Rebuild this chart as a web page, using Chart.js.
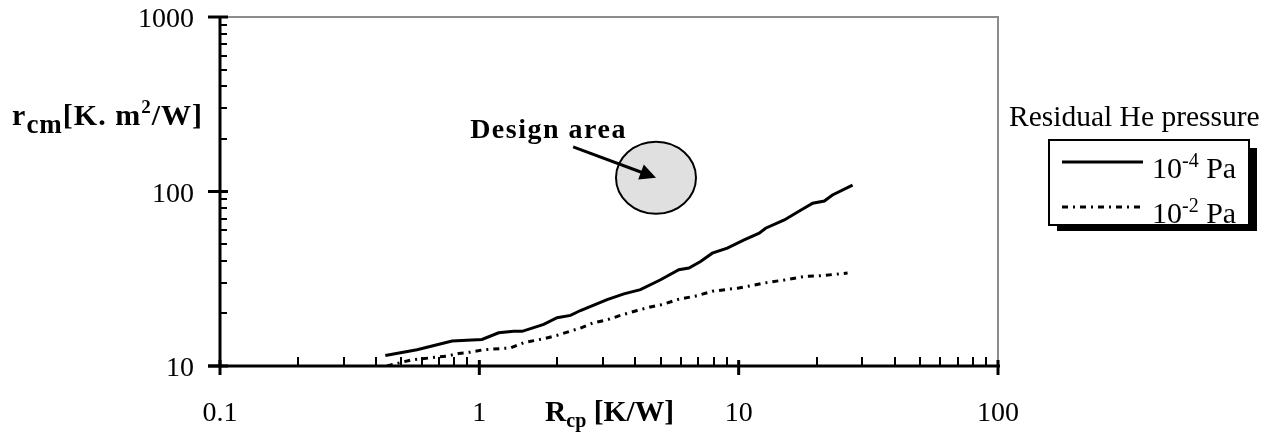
<!DOCTYPE html>
<html>
<head>
<meta charset="utf-8">
<script src="https://cdn.jsdelivr.net/npm/chart.js@4"></script>
<style>
  html, body { margin: 0; padding: 0; background: #fff; }
  #wrap { width: 1265px; height: 432px; }
</style>
</head>
<body>
<div id="wrap"><canvas id="miGrafica" width="1265" height="432"></canvas></div>
<script>
// R_cp [K/W] vs r_cm, residual He pressure 1e-4 Pa
const rcp4 = [0.434, 0.575, 0.785, 1.024, 1.187, 1.356, 1.462, 1.771, 1.995, 2.246, 2.455, 3.11, 3.61, 4.18, 5.0, 5.88, 6.43, 7.13, 7.91, 9.04, 10.5, 12.0, 12.7, 15.0, 17.4, 19.3, 21.4, 23.0, 27.5];
const rcm4 = [11.5, 12.4, 13.9, 14.2, 15.5, 15.8, 15.8, 17.3, 18.9, 19.5, 20.8, 24.0, 25.9, 27.4, 31.2, 35.6, 36.4, 39.7, 44.3, 47.4, 52.8, 57.7, 61.6, 68.7, 78.4, 85.6, 88.2, 95.5, 108.9];

// residual He pressure 1e-2 Pa
const rcp2 = [0.44, 0.542, 0.601, 0.75, 0.832, 0.922, 1.039, 1.318, 1.483, 1.798, 1.995, 2.455, 2.76, 3.11, 3.50, 4.06, 4.57, 5.07, 5.80, 6.93, 7.91, 10.0, 11.1, 12.9, 15.2, 17.9, 20.7, 26.3];
const rcm2 = [10.0, 10.8, 11.0, 11.4, 11.8, 12.0, 12.4, 12.7, 13.6, 14.4, 15.0, 16.5, 17.7, 18.4, 19.5, 20.8, 21.8, 22.5, 24.0, 25.3, 26.8, 28.0, 28.8, 30.1, 31.2, 32.6, 32.9, 34.1];

const xTicks = [0.1, 1, 10, 100];
const xTickLabels = ["0.1", "1", "10", "100"];
const yTicks = [10, 100, 1000];
const yTickLabels = ["10", "100", "1000"];

const seriesNames = ["10^-4 Pa", "10^-2 Pa"];
const legendTitle = "Residual He pressure";
const designLabel = "Design area";
const designCenter = { x: 4.8, y: 120 };
const designArrowFrom = { x: 2.3, y: 180 };

const FONT = "'Liberation Serif', 'Times New Roman', serif";

function puntos(xs, ys) {
    return xs.map((x, i) => ({ x: x, y: ys[i] }));
}

// texto con sub/superindices: partes [texto, tam, desplazamiento]
function textoPartes(ctx, partes, x, y, bold) {
    let cx = x;
    partes.forEach(p => {
        ctx.font = (bold ? "bold " : "") + p[1] + "px " + FONT;
        ctx.fillText(p[0], cx, y + p[2]);
        cx += ctx.measureText(p[0]).width;
    });
    return cx;
}
function anchoPartes(ctx, partes, bold) {
    let w = 0;
    partes.forEach(p => {
        ctx.font = (bold ? "bold " : "") + p[1] + "px " + FONT;
        w += ctx.measureText(p[0]).width;
    });
    return w;
}

const decor = {
    id: "decor",
    beforeDatasetsDraw(chart) {
        const ctx = chart.ctx;
        const a = chart.chartArea;
        ctx.save();
        // marco gris
        ctx.strokeStyle = "#8c8c8c";
        ctx.lineWidth = 2;
        ctx.beginPath();
        ctx.moveTo(a.left, a.top);
        ctx.lineTo(a.right, a.top);
        ctx.lineTo(a.right, a.bottom);
        ctx.stroke();

        // elipse area de diseno
        const cx = chart.scales.x.getPixelForValue(designCenter.x);
        const cy = chart.scales.y.getPixelForValue(designCenter.y);
        ctx.beginPath();
        ctx.ellipse(cx, cy, 40, 36, 0, 0, Math.PI * 2);
        ctx.fillStyle = "#e0e0e0";
        ctx.fill();
        ctx.strokeStyle = "#000";
        ctx.lineWidth = 2;
        ctx.stroke();
        ctx.restore();
    },
    afterDatasetsDraw(chart) {
        const ctx = chart.ctx;
        const a = chart.chartArea;
        const sx = chart.scales.x;
        const sy = chart.scales.y;
        ctx.save();
        ctx.strokeStyle = "#000";
        ctx.fillStyle = "#000";

        // ejes
        ctx.lineWidth = 3;
        ctx.beginPath();
        ctx.moveTo(a.left, a.top);
        ctx.lineTo(a.left, a.bottom);
        ctx.moveTo(a.left - 12, a.bottom);
        ctx.lineTo(a.right + 2, a.bottom);
        ctx.stroke();

        // marcas y
        ctx.lineWidth = 2;
        for (let d = 10; d < 1000; d *= 10) {
            for (let k = 2; k <= 9; k++) {
                const py = Math.round(sy.getPixelForValue(d * k));
                ctx.beginPath();
                ctx.moveTo(a.left, py);
                ctx.lineTo(a.left + 7, py);
                ctx.stroke();
            }
        }
        ctx.lineWidth = 3;
        yTicks.forEach(v => {
            const py = sy.getPixelForValue(v);
            ctx.beginPath();
            ctx.moveTo(a.left - 12, py);
            ctx.lineTo(a.left + 8, py);
            ctx.stroke();
        });
        // marcas x
        ctx.lineWidth = 2;
        for (let d = 0.1; d < 99; d *= 10) {
            for (let k = 2; k <= 9; k++) {
                const px = Math.round(sx.getPixelForValue(d * k));
                ctx.beginPath();
                ctx.moveTo(px, a.bottom);
                ctx.lineTo(px, a.bottom - 9);
                ctx.stroke();
            }
        }
        ctx.lineWidth = 3;
        xTicks.forEach(v => {
            const px = sx.getPixelForValue(v);
            ctx.beginPath();
            ctx.moveTo(px, a.bottom - 6);
            ctx.lineTo(px, a.bottom + 9);
            ctx.stroke();
        });

        // etiquetas
        ctx.font = "28px " + FONT;
        ctx.textBaseline = "alphabetic";
        ctx.textAlign = "right";
        yTicks.forEach((v, i) => {
            ctx.fillText(yTickLabels[i], a.left - 26, sy.getPixelForValue(v) + 10);
        });
        ctx.textAlign = "center";
        xTicks.forEach((v, i) => {
            ctx.fillText(xTickLabels[i], sx.getPixelForValue(v), a.bottom + 55);
        });

        // titulos de ejes
        ctx.textAlign = "left";
        textoPartes(ctx, [["R", 29.5, 0], ["cp", 20, 6], [" [K/W]", 29.5, 0]], 545, a.bottom + 55, true);
        ctx.letterSpacing = "1px";
        const yPartes = [["r", 30, 0], ["cm", 27, 8], ["[K. m", 30, 0], ["2", 19, -12], ["/W]", 30, 0]];
        const wy = anchoPartes(ctx, yPartes, true);
        textoPartes(ctx, yPartes, 203 - wy, 125, true);
        ctx.letterSpacing = "0px";

        // flecha
        const x0 = sx.getPixelForValue(designArrowFrom.x);
        const y0 = sy.getPixelForValue(designArrowFrom.y);
        const x1 = sx.getPixelForValue(designCenter.x);
        const y1 = sy.getPixelForValue(designCenter.y);
        const ang = Math.atan2(y1 - y0, x1 - x0);
        ctx.lineWidth = 3;
        ctx.beginPath();
        ctx.moveTo(x0, y0);
        ctx.lineTo(x1 - 12 * Math.cos(ang), y1 - 12 * Math.sin(ang));
        ctx.stroke();
        ctx.beginPath();
        ctx.moveTo(x1, y1);
        ctx.lineTo(x1 - 16 * Math.cos(ang) + 8 * Math.sin(ang), y1 - 16 * Math.sin(ang) - 8 * Math.cos(ang));
        ctx.lineTo(x1 - 16 * Math.cos(ang) - 8 * Math.sin(ang), y1 - 16 * Math.sin(ang) + 8 * Math.cos(ang));
        ctx.closePath();
        ctx.fill();

        ctx.font = "bold 28px " + FONT;
        ctx.letterSpacing = "1.5px";
        ctx.fillText(designLabel, x0 - 103, y0 - 9);
        ctx.letterSpacing = "0px";

        // leyenda
        ctx.font = "29.5px " + FONT;
        ctx.fillText(legendTitle, 1009, 126);
        ctx.fillRect(1057, 148, 200, 83);
        ctx.fillStyle = "#fff";
        ctx.fillRect(1049, 140, 200, 85);
        ctx.fillStyle = "#000";
        ctx.lineWidth = 2;
        ctx.strokeRect(1049, 140, 200, 85);
        chart.data.datasets.forEach((ds, i) => {
            const ly = 162 + i * 45;
            ctx.save();
            ctx.lineWidth = ds.borderWidth;
            ctx.setLineDash(ds.borderDash || []);
            ctx.beginPath();
            ctx.moveTo(1062, ly);
            ctx.lineTo(1143, ly);
            ctx.stroke();
            ctx.restore();
            const partes = ds.label.split(/\^| /);
            textoPartes(ctx, [[partes[0], 30, 0], [partes[1], 20, -11], [" " + partes[2], 30, 0]], 1152, ly + 16, false);
        });
        ctx.restore();
    }
};

const ctx = document.getElementById("miGrafica").getContext("2d");
new Chart(ctx, {
    type: "line",
    data: {
        datasets: [
            {
                label: seriesNames[0],
                data: puntos(rcp4, rcm4),
                borderColor: "#000",
                borderWidth: 3,
                pointRadius: 0,
                fill: false
            },
            {
                label: seriesNames[1],
                data: puntos(rcp2, rcm2),
                borderColor: "#000",
                borderWidth: 3,
                borderDash: [6, 5, 2, 5],
                pointRadius: 0,
                fill: false
            }
        ]
    },
    options: {
        responsive: false,
        animation: false,
        layout: { padding: { left: 220, right: 267, top: 17, bottom: 66 } },
        plugins: {
            legend: { display: false },
            tooltip: { enabled: false }
        },
        scales: {
            x: { type: "logarithmic", min: 0.1, max: 100, display: false },
            y: { type: "logarithmic", min: 10, max: 1000, display: false }
        }
    },
    plugins: [decor]
});
</script>
</body>
</html>
